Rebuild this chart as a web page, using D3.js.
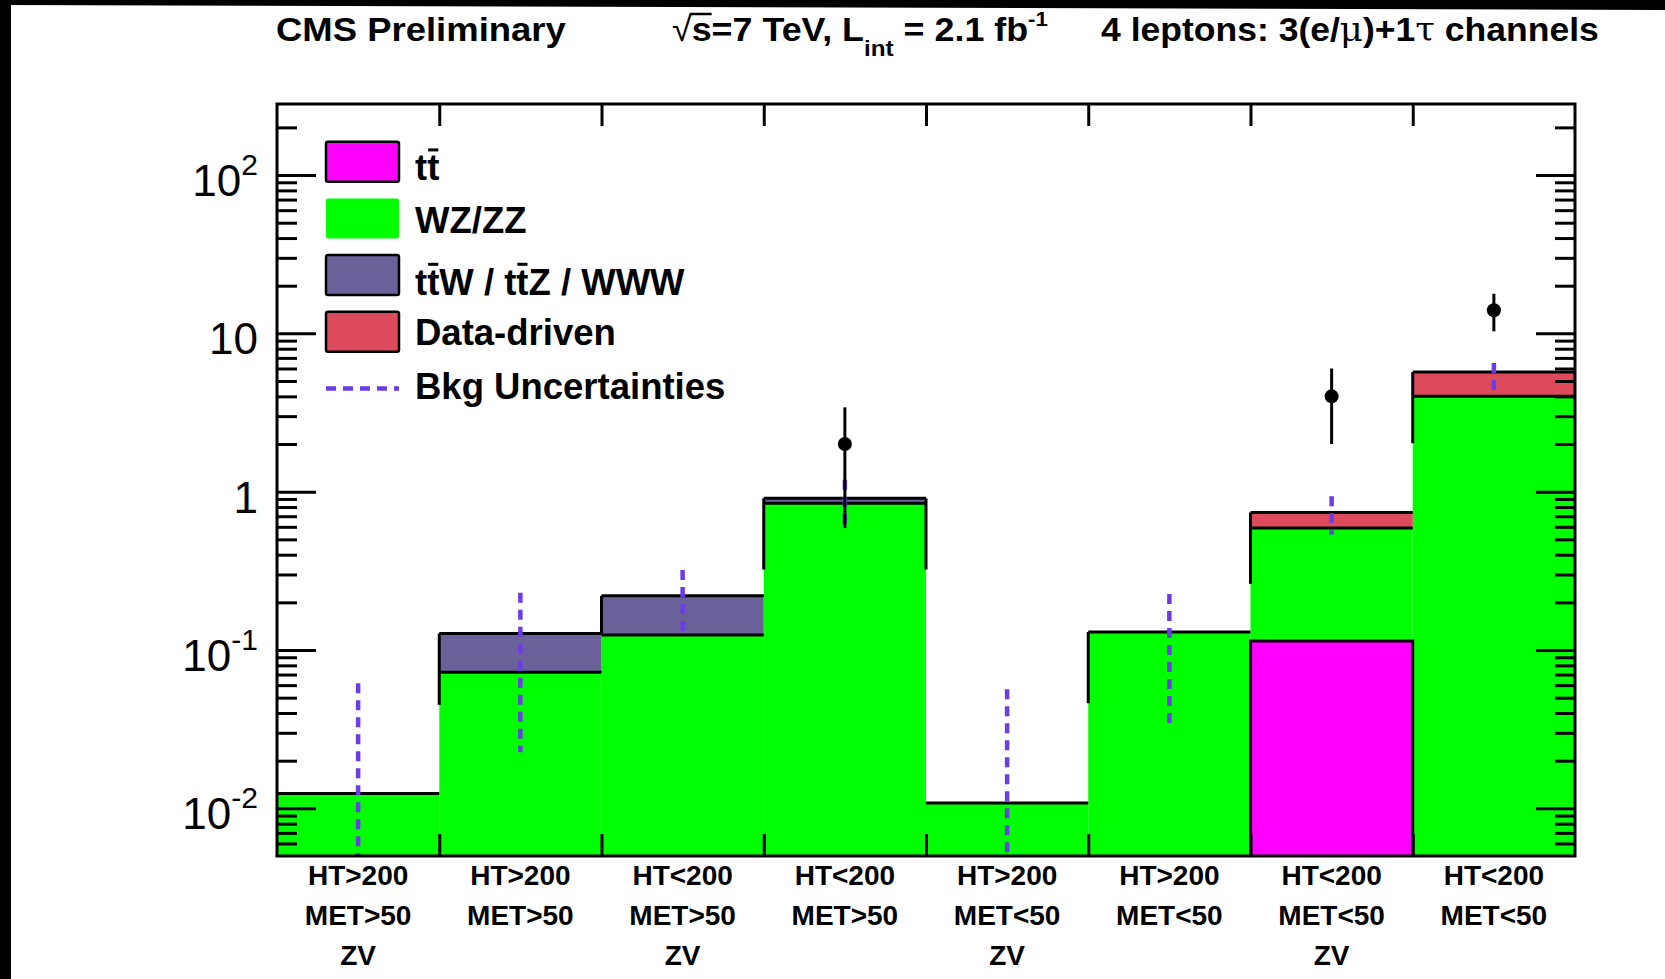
<!DOCTYPE html>
<html><head><meta charset="utf-8">
<script src="https://cdn.jsdelivr.net/npm/d3@7"></script>
<style>
html,body{margin:0;padding:0;background:#fff;}
svg{display:block;}
text{font-family:"Liberation Sans",Arial,Helvetica,sans-serif;}
</style></head><body>
<svg id="chart" width="1665" height="979"></svg>
<script>
// ---------------- data ----------------
const htLabels  = ["HT>200","HT>200","HT<200","HT<200","HT>200","HT>200","HT<200","HT<200"];
const metLabels = ["MET>50","MET>50","MET>50","MET>50","MET<50","MET<50","MET<50","MET<50"];
const zvLabels  = ["ZV","","ZV","","ZV","","ZV",""];

const ttbar      = [0, 0, 0, 0, 0, 0, 0.114, 0];
const wzzz       = [0.0124, 0.0723, 0.1244, 0.845, 0.0108, 0.130, 0.476, 4.01];
const ttvWWW     = [0, 0.0547, 0.0956, 0.063, 0, 0, 0, 0];
const dataDriven = [0, 0, 0, 0, 0, 0, 0.148, 1.69];

const bkgUncLow  = [0, 0.0226, 0.125, 0.59, 0, 0.0345, 0.537, 4.31];
const bkgUncHigh = [0.0616, 0.230, 0.32, 1.19, 0.0565, 0.226, 0.937, 6.5];

const dataObs     = [null, null, null, 2, null, null, 4, 14];
const dataErrLow  = [null, null, null, 0.59, null, null, 2.0, 10.3];
const dataErrHigh = [null, null, null, 3.41, null, null, 6.0, 17.8];

const yTickValues = [0.01, 0.1, 1, 10, 100];
const yTickBase   = ["10", "10", "1", "10", "10"];
const yTickExp    = ["-2", "-1", "", "", "2"];

const legendLabels   = ["tt", "WZ/ZZ", "ttW / ttZ / WWW", "Data-driven", "Bkg Uncertainties"];
const legendBarChars = [[1], [], [1, 7], [], []];

// ---------------- setup ----------------
const W = 1665, H = 979;
const plot = {left: 277, right: 1575, top: 104, bottom: 856};
const nBins = htLabels.length;
const colors = {tt: "#ff00ff", wz: "#00ff00", ttv: "#6a6199", dd: "#dc4a5b", unc: "#6b3de4"};

const svg = d3.select("#chart");
svg.append("rect").attr("width", W).attr("height", H).attr("fill", "#fff");
svg.append("rect").attr("x", 0).attr("y", 0).attr("width", 11).attr("height", H).attr("fill", "#000");
svg.append("polygon").attr("points", "0,0 1665,0 1665,10 0,5").attr("fill", "#000");

const x = d3.scaleLinear().domain([0, nBins]).range([plot.left, plot.right]);
const y = d3.scaleLog().domain([0.005, 281]).range([plot.bottom, plot.top]);
const decadePx = y(1) - y(10);

svg.append("defs").append("clipPath").attr("id", "clip")
  .append("rect").attr("x", plot.left).attr("y", plot.top)
  .attr("width", plot.right - plot.left).attr("height", plot.bottom - plot.top);

const layers = [
  {values: ttbar, color: colors.tt, outline: "box"},
  {values: wzzz, color: colors.wz, outline: "none"},
  {values: ttvWWW, color: colors.ttv, outline: "band"},
  {values: dataDriven, color: colors.dd, outline: "band"}
];
const stacked = d3.stack().keys(d3.range(layers.length))
  .value((d, k) => layers[k].values[d])(d3.range(nBins));
const totals = d3.range(nBins).map(i => stacked[layers.length - 1][i][1]);
const yv = v => v > y.domain()[0] ? y(v) : plot.bottom + 4;

const gPlot = svg.append("g").attr("clip-path", "url(#clip)");

// fills
stacked.forEach((series, k) => {
  series.forEach((d, i) => {
    if (layers[k].values[i] <= 0) return;
    gPlot.append("rect")
      .attr("x", x(i)).attr("width", x(i + 1) - x(i))
      .attr("y", y(d[1])).attr("height", yv(d[0]) - y(d[1]))
      .attr("fill", layers[k].color);
  });
});

// outlines
const gOut = gPlot.append("g").attr("stroke", "#000").attr("stroke-width", 3).attr("fill", "none");
d3.range(nBins).forEach(i => {
  const levels = new Set([totals[i]]);
  stacked.forEach((series, k) => {
    if (layers[k].values[i] <= 0) return;
    const d = series[i];
    if (layers[k].outline === "band") { levels.add(d[0]); levels.add(d[1]); }
    if (layers[k].outline === "box") {
      gOut.append("rect").attr("x", x(i)).attr("width", x(i + 1) - x(i))
        .attr("y", y(d[1])).attr("height", yv(d[0]) - y(d[1]));
    }
  });
  levels.forEach(v => {
    gOut.append("line").attr("x1", x(i)).attr("x2", x(i + 1))
      .attr("y1", y(v)).attr("y2", y(v));
  });
});
// vertical step edges between bins
d3.range(1, nBins).forEach(e => {
  const hi = Math.max(totals[e - 1], totals[e]), lo = Math.min(totals[e - 1], totals[e]);
  const y1 = y(hi), y2 = Math.min(yv(lo), y1 + 0.45 * decadePx);
  gOut.append("line").attr("x1", x(e)).attr("x2", x(e)).attr("y1", y1).attr("y2", y2);
});

// background uncertainty
d3.range(nBins).forEach(i => {
  gPlot.append("line")
    .attr("x1", x(i + 0.5)).attr("x2", x(i + 0.5))
    .attr("y1", y(bkgUncHigh[i])).attr("y2", yv(bkgUncLow[i]))
    .attr("stroke", colors.unc).attr("stroke-width", 4.5).attr("stroke-dasharray", "10,7");
});

// data points
d3.range(nBins).forEach(i => {
  if (dataObs[i] == null) return;
  gPlot.append("line").attr("x1", x(i + 0.5)).attr("x2", x(i + 0.5))
    .attr("y1", y(dataErrHigh[i])).attr("y2", y(dataErrLow[i]))
    .attr("stroke", "#000").attr("stroke-width", 3);
  gPlot.append("circle").attr("cx", x(i + 0.5)).attr("cy", y(dataObs[i])).attr("r", 7).attr("fill", "#000");
});

// ---------------- axes ----------------
const allTicks = y.ticks().filter(v => v > y.domain()[0] * 1.001 && v < y.domain()[1]);
const isMajor = v => Math.abs(Math.log10(v) - Math.round(Math.log10(v))) < 1e-6;
const minors = allTicks.filter(v => !isMajor(v));
const majors = allTicks.filter(isMajor);

function styleAxis(g) {
  g.select(".domain").remove();
  g.selectAll(".tick line").attr("stroke", "#000").attr("stroke-width", 3);
  g.selectAll(".tick text").remove();
}
svg.append("g").attr("transform", `translate(${plot.left},0)`)
  .call(d3.axisRight(y).tickValues(minors).tickSize(20).tickFormat("")).call(styleAxis);
svg.append("g").attr("transform", `translate(${plot.left},0)`)
  .call(d3.axisRight(y).tickValues(majors).tickSize(39).tickFormat("")).call(styleAxis);
svg.append("g").attr("transform", `translate(${plot.right},0)`)
  .call(d3.axisLeft(y).tickValues(minors).tickSize(20).tickFormat("")).call(styleAxis);
svg.append("g").attr("transform", `translate(${plot.right},0)`)
  .call(d3.axisLeft(y).tickValues(majors).tickSize(39).tickFormat("")).call(styleAxis);
svg.append("g").attr("transform", `translate(0,${plot.top})`)
  .call(d3.axisBottom(x).tickValues(d3.range(1, nBins)).tickSize(22).tickFormat("")).call(styleAxis);
svg.append("g").attr("transform", `translate(0,${plot.bottom})`)
  .call(d3.axisTop(x).tickValues(d3.range(1, nBins)).tickSize(22).tickFormat("")).call(styleAxis);

svg.append("rect").attr("x", plot.left).attr("y", plot.top)
  .attr("width", plot.right - plot.left).attr("height", plot.bottom - plot.top)
  .attr("fill", "none").attr("stroke", "#000").attr("stroke-width", 3);

// y tick labels
yTickValues.forEach((v, i) => {
  const t = svg.append("text").attr("x", plot.left - 19).attr("y", y(v) + 21)
    .attr("text-anchor", "end").attr("font-size", 44).attr("fill", "#000");
  t.append("tspan").text(yTickBase[i]);
  if (yTickExp[i]) t.append("tspan").attr("dy", -21).attr("font-size", 30).text(yTickExp[i]);
});

// x category labels
[htLabels, metLabels, zvLabels].forEach((arr, row) => {
  arr.forEach((lab, i) => {
    if (!lab) return;
    svg.append("text").attr("x", x(i + 0.5)).attr("y", 885 + row * 40)
      .attr("text-anchor", "middle").attr("font-size", 28).attr("font-weight", "bold")
      .text(lab);
  });
});

// ---------------- legend ----------------
const legX = 326, legW = 73, legH = 40, legY0 = 161.7, legStep = 56.7, legFs = 36.5;
const legTextDy = [18.5, 15, 19.5, 13, 10];
const legendFills = [colors.tt, colors.wz, colors.ttv, colors.dd, null];
legendLabels.forEach((lab, i) => {
  const cy = legY0 + i * legStep;
  if (legendFills[i]) {
    svg.append("rect").attr("x", legX).attr("y", cy - legH / 2).attr("width", legW).attr("height", legH)
      .attr("rx", 2).attr("fill", legendFills[i])
      .attr("stroke", i === 1 ? "none" : "#000").attr("stroke-width", 2.5);
  } else {
    svg.append("line").attr("x1", legX).attr("x2", legX + legW).attr("y1", cy).attr("y2", cy)
      .attr("stroke", colors.unc).attr("stroke-width", 4.5).attr("stroke-dasharray", "10,7");
  }
  const base = cy + legTextDy[i];
  const t = svg.append("text").attr("x", 415).attr("y", base)
    .attr("font-size", legFs).attr("font-weight", "bold").text(lab);
  legendBarChars[i].forEach(ci => {
    const e = t.node().getExtentOfChar(ci);
    svg.append("line").attr("x1", e.x + 1).attr("x2", e.x + e.width - 1)
      .attr("y1", base - 0.83 * legFs).attr("y2", base - 0.83 * legFs)
      .attr("stroke", "#000").attr("stroke-width", 3);
  });
});

// ---------------- header ----------------
function fitGroup(g, t, x0, width) {
  const w = t.node().getComputedTextLength();
  g.attr("transform", `translate(${x0},0) scale(${width / w},1)`);
}
const titleFs = 34, titleBase = 41;
{
  const g = svg.append("g");
  const t = g.append("text").attr("x", 0).attr("y", titleBase).attr("font-size", titleFs)
    .attr("font-weight", "bold").text("CMS Preliminary");
  fitGroup(g, t, 276, 290);
}
{
  const g = svg.append("g");
  const t = g.append("text").attr("x", 0).attr("y", titleBase).attr("font-size", titleFs).attr("font-weight", "bold");
  t.append("tspan").attr("font-weight", "normal").text("√");
  t.append("tspan").text("s");
  t.append("tspan").text("=7 TeV, L");
  t.append("tspan").attr("dy", 15).attr("font-size", 23).text("int");
  t.append("tspan").attr("dy", -15).text(" = 2.1 fb");
  t.append("tspan").attr("dy", -15).attr("font-size", 21).text("-1");
  const e0 = t.node().getExtentOfChar(0), e1 = t.node().getExtentOfChar(1);
  g.append("line").attr("x1", e0.x + e0.width - 2).attr("x2", e1.x + e1.width)
    .attr("y1", titleBase - 27).attr("y2", titleBase - 27).attr("stroke", "#000").attr("stroke-width", 2.5);
  fitGroup(g, t, 672, 376);
}
{
  const g = svg.append("g");
  const t = g.append("text").attr("x", 0).attr("y", titleBase).attr("font-size", titleFs).attr("font-weight", "bold");
  t.append("tspan").text("4 leptons: 3(e/");
  t.append("tspan").attr("font-family", "DejaVu Serif").attr("font-weight", "normal").text("μ");
  t.append("tspan").text(")+1");
  t.append("tspan").attr("font-family", "DejaVu Serif").attr("font-weight", "normal").text("τ");
  t.append("tspan").text(" channels");
  fitGroup(g, t, 1101, 498);
}
</script>
</body></html>
